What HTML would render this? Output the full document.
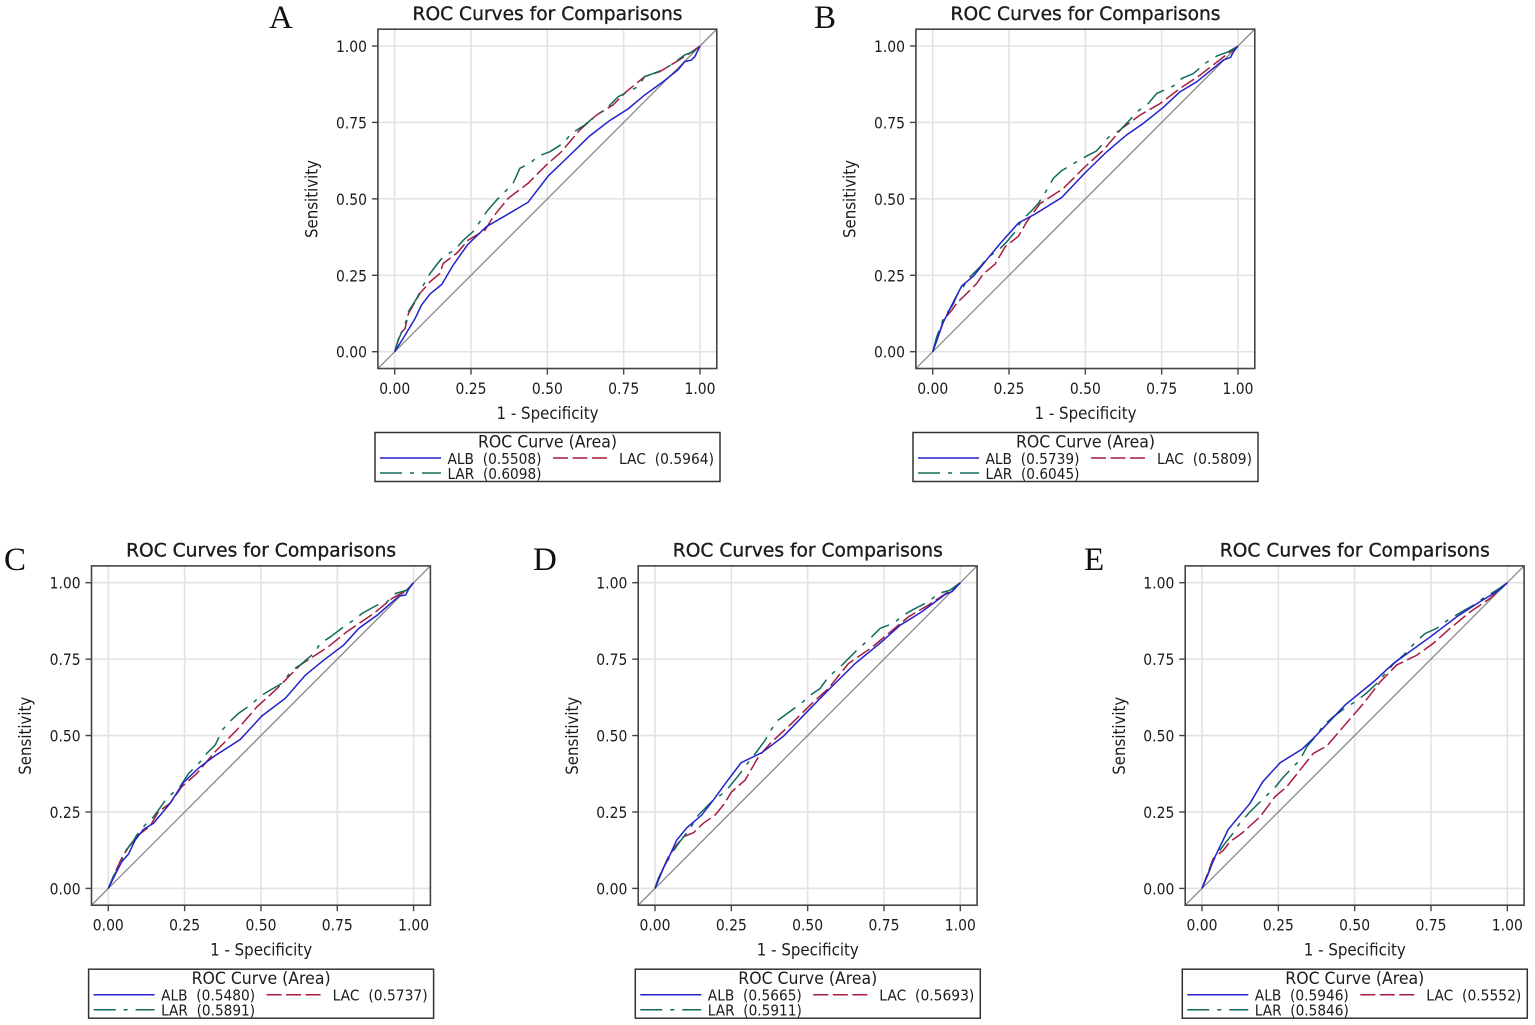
<!DOCTYPE html>
<html lang="en">
<head>
<meta charset="utf-8">
<title>ROC Curves for Comparisons</title>
<style>
html,body{margin:0;padding:0;background:#fff;}
svg{display:block;filter:blur(0.35px);}
text{font-family:"DejaVu Sans","Liberation Sans",sans-serif;fill:#1c1c1c;}
.letter{font-family:"Liberation Serif",serif;font-size:33px;fill:#111;}
.title{font-size:19px;stroke:#1c1c1c;stroke-width:.35px;text-anchor:middle;}
.axis-title{font-size:16.5px;text-anchor:middle;}
.tick-label{font-size:16px;}
.legend-title{font-size:16.5px;text-anchor:middle;}
.legend-text{font-size:15.5px;}
.legend-box{fill:none;stroke:#333;stroke-width:1.5;}
.alb{stroke:#2222cc;stroke-width:1.5;fill:none;}
.lac{stroke:#a81c3c;stroke-width:1.5;fill:none;stroke-dasharray:15 4.5;}
.lar{stroke:#106a5a;stroke-width:1.5;fill:none;stroke-dasharray:22 8 4 8;}
</style>
</head>
<body>
<svg id="chart" width="1535" height="1025" viewBox="0 0 1535 1025" xmlns="http://www.w3.org/2000/svg">
<rect width="1535" height="1025" fill="#fff"/>
<text class="letter" x="269" y="28">A</text>
<text class="letter" x="814" y="28">B</text>
<text class="letter" x="4" y="570">C</text>
<text class="letter" x="533" y="570">D</text>
<text class="letter" x="1084" y="570">E</text>

<g id="panel-a" transform="translate(0,0)">
<text class="title" x="547.5" y="20" textLength="270" lengthAdjust="spacingAndGlyphs">ROC Curves for Comparisons</text>
<g class="plot"></g>
<text class="axis-title" x="547.5" y="419" textLength="102" lengthAdjust="spacingAndGlyphs">1 - Specificity</text>
<text class="axis-title" transform="translate(317.5,199) rotate(-90)" textLength="78" lengthAdjust="spacingAndGlyphs">Sensitivity</text>
<g>
<rect class="legend-box" x="375" y="432.5" width="345" height="49"/>
<text class="legend-title" x="547.5" y="447.5" textLength="139" lengthAdjust="spacingAndGlyphs">ROC Curve (Area)</text>
<line class="alb" x1="380" x2="441" y1="458" y2="458"/>
<text class="legend-text" x="447.5" y="464" xml:space="preserve" textLength="94" lengthAdjust="spacingAndGlyphs">ALB  (0.5508)</text>
<line class="lac" x1="553" x2="610" y1="458" y2="458"/>
<text class="legend-text" x="619" y="464" xml:space="preserve" textLength="95" lengthAdjust="spacingAndGlyphs">LAC  (0.5964)</text>
<line class="lar" x1="380" x2="441" y1="473" y2="473"/>
<text class="legend-text" x="447.5" y="479" xml:space="preserve" textLength="94" lengthAdjust="spacingAndGlyphs">LAR  (0.6098)</text>
</g>
</g>

<g id="panel-b" transform="translate(538,0)">
<text class="title" x="547.5" y="20" textLength="270" lengthAdjust="spacingAndGlyphs">ROC Curves for Comparisons</text>
<g class="plot"></g>
<text class="axis-title" x="547.5" y="419" textLength="102" lengthAdjust="spacingAndGlyphs">1 - Specificity</text>
<text class="axis-title" transform="translate(317.5,199) rotate(-90)" textLength="78" lengthAdjust="spacingAndGlyphs">Sensitivity</text>
<g>
<rect class="legend-box" x="375" y="432.5" width="345" height="49"/>
<text class="legend-title" x="547.5" y="447.5" textLength="139" lengthAdjust="spacingAndGlyphs">ROC Curve (Area)</text>
<line class="alb" x1="380" x2="441" y1="458" y2="458"/>
<text class="legend-text" x="447.5" y="464" xml:space="preserve" textLength="94" lengthAdjust="spacingAndGlyphs">ALB  (0.5739)</text>
<line class="lac" x1="553" x2="610" y1="458" y2="458"/>
<text class="legend-text" x="619" y="464" xml:space="preserve" textLength="95" lengthAdjust="spacingAndGlyphs">LAC  (0.5809)</text>
<line class="lar" x1="380" x2="441" y1="473" y2="473"/>
<text class="legend-text" x="447.5" y="479" xml:space="preserve" textLength="94" lengthAdjust="spacingAndGlyphs">LAR  (0.6045)</text>
</g>
</g>

<g id="panel-c" transform="translate(-286.4,536.7)">
<text class="title" x="547.5" y="20" textLength="270" lengthAdjust="spacingAndGlyphs">ROC Curves for Comparisons</text>
<g class="plot"></g>
<text class="axis-title" x="547.5" y="419" textLength="102" lengthAdjust="spacingAndGlyphs">1 - Specificity</text>
<text class="axis-title" transform="translate(317.5,199) rotate(-90)" textLength="78" lengthAdjust="spacingAndGlyphs">Sensitivity</text>
<g>
<rect class="legend-box" x="375" y="432.5" width="345" height="49"/>
<text class="legend-title" x="547.5" y="447.5" textLength="139" lengthAdjust="spacingAndGlyphs">ROC Curve (Area)</text>
<line class="alb" x1="380" x2="441" y1="458" y2="458"/>
<text class="legend-text" x="447.5" y="464" xml:space="preserve" textLength="94" lengthAdjust="spacingAndGlyphs">ALB  (0.5480)</text>
<line class="lac" x1="553" x2="610" y1="458" y2="458"/>
<text class="legend-text" x="619" y="464" xml:space="preserve" textLength="95" lengthAdjust="spacingAndGlyphs">LAC  (0.5737)</text>
<line class="lar" x1="380" x2="441" y1="473" y2="473"/>
<text class="legend-text" x="447.5" y="479" xml:space="preserve" textLength="94" lengthAdjust="spacingAndGlyphs">LAR  (0.5891)</text>
</g>
</g>

<g id="panel-d" transform="translate(260.3,536.7)">
<text class="title" x="547.5" y="20" textLength="270" lengthAdjust="spacingAndGlyphs">ROC Curves for Comparisons</text>
<g class="plot"></g>
<text class="axis-title" x="547.5" y="419" textLength="102" lengthAdjust="spacingAndGlyphs">1 - Specificity</text>
<text class="axis-title" transform="translate(317.5,199) rotate(-90)" textLength="78" lengthAdjust="spacingAndGlyphs">Sensitivity</text>
<g>
<rect class="legend-box" x="375" y="432.5" width="345" height="49"/>
<text class="legend-title" x="547.5" y="447.5" textLength="139" lengthAdjust="spacingAndGlyphs">ROC Curve (Area)</text>
<line class="alb" x1="380" x2="441" y1="458" y2="458"/>
<text class="legend-text" x="447.5" y="464" xml:space="preserve" textLength="94" lengthAdjust="spacingAndGlyphs">ALB  (0.5665)</text>
<line class="lac" x1="553" x2="610" y1="458" y2="458"/>
<text class="legend-text" x="619" y="464" xml:space="preserve" textLength="95" lengthAdjust="spacingAndGlyphs">LAC  (0.5693)</text>
<line class="lar" x1="380" x2="441" y1="473" y2="473"/>
<text class="legend-text" x="447.5" y="479" xml:space="preserve" textLength="94" lengthAdjust="spacingAndGlyphs">LAR  (0.5911)</text>
</g>
</g>

<g id="panel-e" transform="translate(807.3,536.7)">
<text class="title" x="547.5" y="20" textLength="270" lengthAdjust="spacingAndGlyphs">ROC Curves for Comparisons</text>
<g class="plot"></g>
<text class="axis-title" x="547.5" y="419" textLength="102" lengthAdjust="spacingAndGlyphs">1 - Specificity</text>
<text class="axis-title" transform="translate(317.5,199) rotate(-90)" textLength="78" lengthAdjust="spacingAndGlyphs">Sensitivity</text>
<g>
<rect class="legend-box" x="375" y="432.5" width="345" height="49"/>
<text class="legend-title" x="547.5" y="447.5" textLength="139" lengthAdjust="spacingAndGlyphs">ROC Curve (Area)</text>
<line class="alb" x1="380" x2="441" y1="458" y2="458"/>
<text class="legend-text" x="447.5" y="464" xml:space="preserve" textLength="94" lengthAdjust="spacingAndGlyphs">ALB  (0.5946)</text>
<line class="lac" x1="553" x2="610" y1="458" y2="458"/>
<text class="legend-text" x="619" y="464" xml:space="preserve" textLength="95" lengthAdjust="spacingAndGlyphs">LAC  (0.5552)</text>
<line class="lar" x1="380" x2="441" y1="473" y2="473"/>
<text class="legend-text" x="447.5" y="479" xml:space="preserve" textLength="94" lengthAdjust="spacingAndGlyphs">LAR  (0.5846)</text>
</g>
</g>
</svg>

<script>
const tickValues = [0, 0.25, 0.5, 0.75, 1];
const tickLabels = ['0.00', '0.25', '0.50', '0.75', '1.00'];

const aAlbX = [0,.028,.067,.088,.116,.154,.192,.238,.30,.366,.437,.503,.574,.639,.704,.764,.819,.879,.928,.95,.972,.983,1];
const aAlbY = [0,.044,.109,.153,.189,.22,.284,.349,.409,.447,.489,.575,.643,.706,.756,.794,.84,.883,.922,.949,.954,.965,1];
const aLacX = [0,.017,.034,.045,.083,.116,.148,.159,.203,.241,.296,.323,.372,.437,.497,.546,.606,.661,.715,.759,.819,.868,.923,.966,1];
const aLacY = [0,.057,.076,.125,.191,.229,.256,.289,.322,.365,.398,.442,.502,.551,.611,.654,.725,.774,.807,.851,.9,.916,.949,.976,1];
const aLarX = [0,.012,.039,.045,.072,.094,.116,.137,.159,.197,.225,.257,.279,.301,.334,.361,.388,.41,.443,.47,.508,.552,.579,.623,.661,.694,.732,.797,.819,.863,.906,.95,.977,1];
const aLarY = [0,.038,.104,.131,.174,.218,.256,.284,.311,.333,.365,.393,.425,.458,.496,.523,.551,.6,.616,.64,.654,.682,.714,.742,.774,.796,.834,.867,.9,.916,.938,.971,.981,1];

const bAlbX = [0,.035,.068,.095,.133,.177,.221,.281,.335,.422,.499,.57,.635,.69,.755,.81,.865,.919,.952,.976,.985,1];
const bAlbY = [0,.097,.163,.215,.247,.301,.354,.421,.45,.504,.585,.654,.709,.747,.799,.85,.883,.927,.954,.963,.981,1];
const bLacX = [0,.019,.035,.062,.079,.111,.144,.166,.204,.237,.281,.308,.352,.428,.499,.559,.619,.679,.745,.81,.876,.925,.968,1];
const bLacY = [0,.053,.103,.135,.159,.19,.223,.255,.286,.343,.378,.425,.485,.534,.605,.659,.73,.774,.812,.861,.905,.943,.976,1];
const bLarX = [0,.013,.035,.068,.079,.1,.122,.155,.182,.215,.242,.27,.291,.324,.346,.373,.395,.422,.466,.504,.537,.575,.614,.674,.706,.734,.788,.816,.854,.892,.93,.968,1];
const bLarY = [0,.048,.108,.157,.184,.212,.245,.277,.31,.332,.359,.392,.43,.461,.485,.528,.567,.592,.618,.64,.657,.701,.725,.788,.812,.845,.869,.894,.91,.943,.967,.981,1];

const cAlbX = [0,.022,.044,.066,.088,.115,.148,.202,.246,.295,.345,.432,.503,.58,.646,.706,.771,.821,.881,.952,.974,.985,1];
const cAlbY = [0,.044,.087,.112,.158,.193,.213,.278,.346,.393,.431,.487,.564,.622,.698,.747,.796,.851,.894,.956,.96,.981,1];
const cLacX = [0,.016,.038,.049,.071,.098,.137,.164,.202,.241,.29,.345,.421,.487,.553,.629,.717,.782,.87,.93,.979,1];
const cLacY = [0,.038,.087,.109,.142,.174,.204,.251,.278,.333,.376,.442,.518,.594,.654,.731,.788,.84,.9,.949,.976,1];
const cLarX = [0,.016,.044,.049,.077,.093,.12,.148,.164,.191,.235,.263,.301,.323,.35,.375,.399,.427,.47,.498,.531,.569,.602,.629,.673,.695,.728,.771,.804,.832,.881,.914,.941,.979,1];
const cLarY = [0,.038,.087,.115,.147,.174,.207,.234,.256,.294,.333,.376,.414,.442,.469,.52,.547,.573,.603,.629,.649,.671,.714,.731,.769,.802,.823,.856,.878,.9,.927,.938,.965,.976,1];

const dAlbX = [0,.027,.049,.071,.104,.153,.191,.235,.282,.35,.421,.503,.579,.656,.743,.803,.874,.951,.973,1];
const dAlbY = [0,.065,.109,.158,.198,.24,.289,.349,.411,.444,.498,.583,.66,.736,.807,.861,.905,.962,.971,1];
const dLacX = [0,.022,.044,.071,.093,.126,.158,.197,.224,.251,.295,.339,.383,.448,.514,.568,.634,.71,.765,.831,.896,.962,1];
const dLacY = [0,.055,.104,.142,.169,.182,.213,.24,.273,.316,.354,.431,.48,.54,.605,.654,.736,.788,.834,.889,.927,.971,1];
const dLarX = [0,.011,.027,.055,.077,.098,.115,.142,.191,.23,.257,.279,.311,.333,.361,.383,.404,.437,.481,.508,.541,.568,.607,.634,.667,.705,.738,.781,.814,.847,.896,.929,.967,1];
const dLarY = [0,.033,.065,.115,.147,.174,.196,.24,.289,.316,.349,.376,.42,.447,.485,.523,.551,.575,.607,.632,.654,.692,.725,.752,.785,.818,.851,.867,.894,.913,.938,.965,.976,1];

const eAlbX = [0,.043,.086,.157,.199,.256,.327,.365,.469,.562,.627,.748,.835,.911,.977,1];
const eAlbY = [0,.104,.193,.278,.349,.411,.455,.491,.6,.676,.736,.823,.889,.938,.978,1];
const eLacX = [0,.021,.037,.07,.092,.13,.19,.239,.278,.321,.365,.409,.463,.529,.584,.638,.704,.758,.813,.879,.944,1];
const eLacY = [0,.055,.098,.125,.153,.18,.234,.3,.333,.387,.442,.466,.529,.605,.676,.731,.763,.802,.851,.905,.949,1];
const eLarX = [0,.021,.043,.075,.097,.119,.152,.174,.201,.239,.263,.294,.321,.343,.376,.398,.431,.463,.507,.54,.573,.627,.66,.698,.731,.769,.808,.846,.89,.928,.966,1];
const eLarY = [0,.049,.104,.147,.174,.207,.245,.267,.294,.33,.36,.393,.42,.463,.502,.534,.562,.586,.614,.64,.671,.734,.763,.804,.834,.851,.88,.902,.927,.954,.976,1];

const panels = [
  ['panel-a', aAlbX, aAlbY, aLacX, aLacY, aLarX, aLarY],
  ['panel-b', bAlbX, bAlbY, bLacX, bLacY, bLarX, bLarY],
  ['panel-c', cAlbX, cAlbY, cLacX, cLacY, cLarX, cLarY],
  ['panel-d', dAlbX, dAlbY, dLacX, dLacY, dLarX, dLarY],
  ['panel-e', eAlbX, eAlbY, eLacX, eLacY, eLarX, eLarY]
];

const NS = 'http://www.w3.org/2000/svg';
const axisMin = -0.055, axisMax = 1.055;
const xScale = v => 394.7 + v * 305.3;
const yScale = v => 351.7 - v * 305.7;

function make(parent, tag, attrs) {
  const node = document.createElementNS(NS, tag);
  for (const key in attrs) node.setAttribute(key, attrs[key]);
  parent.appendChild(node);
  return node;
}

function curvePath(xs, ys) {
  return xs.map((x, i) => (i ? 'L' : 'M') + xScale(x).toFixed(2) + ' ' + yScale(ys[i]).toFixed(2)).join(' ');
}

function drawPanel(spec) {
  const plot = document.querySelector('#' + spec[0] + ' .plot');
  tickValues.forEach((t, i) => {
    const gx = make(plot, 'line', {x1: xScale(t), x2: xScale(t), y1: yScale(axisMin), y2: yScale(axisMax), stroke: '#e3e3e3', 'stroke-width': 1.6});
    
    
    const gy = make(plot, 'line', {x1: xScale(axisMin), x2: xScale(axisMax), y1: yScale(t), y2: yScale(t), stroke: '#e3e3e3', 'stroke-width': 1.6});
    
    
    const tx = make(plot, 'line', {x1: xScale(t), x2: xScale(t), y1: yScale(axisMin), y2: yScale(axisMin) + 6, stroke: '#444', 'stroke-width': 1.4});
    
    
    const ty = make(plot, 'line', {x1: xScale(axisMin) - 6, x2: xScale(axisMin), y1: yScale(t), y2: yScale(t), stroke: '#444', 'stroke-width': 1.4});
    
    
    const lx = make(plot, 'text', {x: xScale(t), y: 394, 'text-anchor': 'middle', 'class': 'tick-label', textLength: 31, lengthAdjust: 'spacingAndGlyphs'});
    lx.textContent = tickLabels[i];
    
    
    const ly = make(plot, 'text', {x: 367, y: yScale(t) + 6, 'text-anchor': 'end', 'class': 'tick-label', textLength: 31, lengthAdjust: 'spacingAndGlyphs'});
    ly.textContent = tickLabels[i];
    
    
  });
  const diagonal = make(plot, 'line', {x1: xScale(axisMin), y1: yScale(axisMin), x2: xScale(axisMax), y2: yScale(axisMax), stroke: '#808080', 'stroke-width': 1.2});
  
  
  const lac = make(plot, 'path', {d: curvePath(spec[3], spec[4]), 'class': 'lac'});
  
  
  const lar = make(plot, 'path', {d: curvePath(spec[5], spec[6]), 'class': 'lar'});
  
  
  const alb = make(plot, 'path', {d: curvePath(spec[1], spec[2]), 'class': 'alb'});
  
  
  const frame = make(plot, 'rect', {x: xScale(axisMin), y: yScale(axisMax), width: xScale(axisMax) - xScale(axisMin), height: yScale(axisMin) - yScale(axisMax), fill: 'none', stroke: '#444', 'stroke-width': 1.6});
  
  
}

panels.forEach(drawPanel);
</script>
</body>
</html>
